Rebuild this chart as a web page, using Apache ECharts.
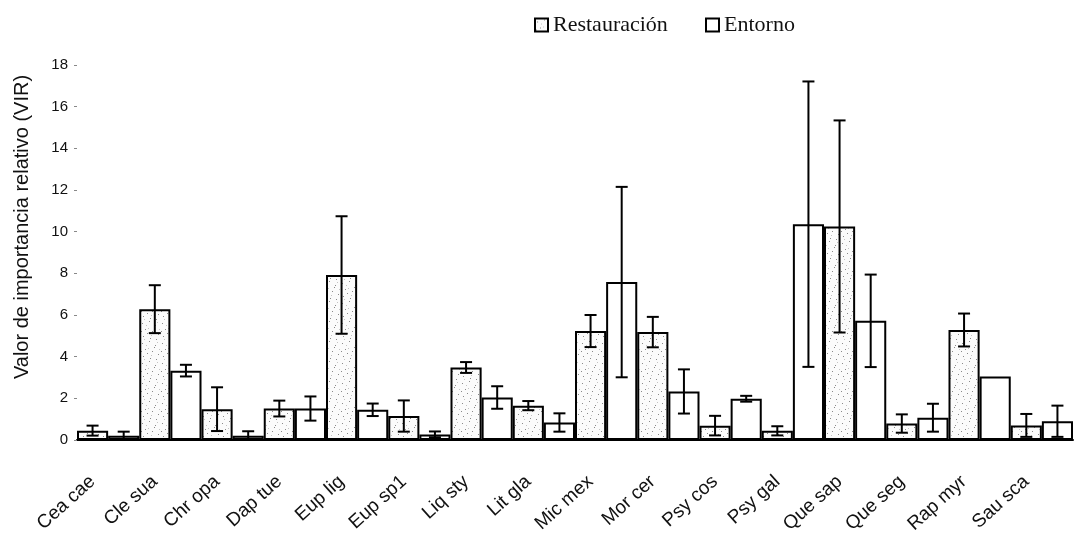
<!DOCTYPE html>
<html>
<head>
<meta charset="utf-8">
<script src="https://cdn.jsdelivr.net/npm/echarts@6/dist/echarts.min.js"></script>
<style>
html,body{margin:0;padding:0;background:#fff;}
#chart{width:1074px;height:542px;}
</style>
</head>
<body>
<div id="chart"></div>
<script>
const categories = ['Cea cae','Cle sua','Chr opa','Dap tue','Eup lig','Eup sp1','Liq sty','Lit gla','Mic mex','Mor cer','Psy cos','Psy gal','Que sap','Que seg','Rap myr','Sau sca'];
const restauracion    = [0.45, 6.28, 1.48, 1.51, 7.92, 1.15, 3.48, 1.65, 5.23, 5.18, 0.69, 0.44, 10.25, 0.79, 5.28, 0.70];
const restauracionErr = [0.24, 1.15, 1.05, 0.38, 2.82, 0.75, 0.26, 0.22, 0.77, 0.73, 0.47, 0.22, 5.09, 0.44, 0.79, 0.55];
const entorno         = [0.20, 3.33, 0.20, 1.51, 1.45, 0.27, 2.04, 0.84, 7.58, 2.33, 1.98, 10.36, 5.72, 1.07, 3.05, 0.90];
const entornoErr      = [0.20, 0.28, 0.22, 0.58, 0.30, 0.14, 0.54, 0.44, 4.57, 1.06, 0.14, 6.85, 2.22, 0.67, null, 0.75];
const yTicks = [0, 2, 4, 6, 8, 10, 12, 14, 16, 18];
const yTitle = 'Valor de importancia relativo (VIR)';
const seriesNames = ['Restauración', 'Entorno'];

// stipple texture for the "Restauración" fill
const tex = document.createElement('canvas');
tex.width = 20; tex.height = 20;
(function(){
  const c = tex.getContext('2d');
  c.fillStyle = '#fbfbfb'; c.fillRect(0,0,20,20);
  c.fillStyle = '#8a8a8a';
  const dots = [[2,3],[9,1],[15,5],[5,9],[12,11],[18,14],[3,16],[10,18],[16,19],[7,13],[14,7],[1,11]];
  dots.forEach(d => c.fillRect(d[0], d[1], 1, 1));
  c.fillStyle = '#c4c4c4';
  const dots2 = [[6,5],[17,2],[11,15],[4,19],[19,9],[8,8]];
  dots2.forEach(d => c.fillRect(d[0], d[1], 1, 1));
})();
const stipple = { image: tex, repeat: 'repeat' };

function errData(vals, errs) {
  return vals.map((v, i) => [i, v, errs[i]]);
}
function errRender(side) {
  return function(params, api) {
    const e = api.value(2);
    if (e === null || e === undefined || isNaN(e)) return null;
    const i = api.value(0), v = api.value(1);
    const bw = api.size([1, 0])[0];
    const c = api.coord([i, v]);
    const x = c[0] + side * bw / 4;
    const yh = api.coord([i, v + e])[1];
    const yl = api.coord([i, Math.max(0, v - e)])[1];
    const cap = 6;
    const st = { stroke: '#000', lineWidth: 2 };
    return {
      type: 'group',
      children: [
        { type: 'line', shape: { x1: x, y1: yh, x2: x, y2: yl }, style: st },
        { type: 'line', shape: { x1: x - cap, y1: yh, x2: x + cap, y2: yh }, style: st },
        { type: 'line', shape: { x1: x - cap, y1: yl, x2: x + cap, y2: yl }, style: st }
      ]
    };
  };
}

const legendBase = {
  icon: 'rect', top: 9,
  itemWidth: 13, itemHeight: 13,
  textStyle: { fontFamily: 'Liberation Serif', fontSize: 22, color: '#111' }
};

const chart = echarts.init(document.getElementById('chart'), null, { renderer: 'canvas' });
chart.setOption({
  backgroundColor: '#fff',
  animation: false,
  legend: [
    Object.assign({}, legendBase, { data: [seriesNames[0]], left: 529 }),
    Object.assign({}, legendBase, { data: [seriesNames[1]], left: 700 })
  ],
  grid: { left: 77, right: 1, top: 65, bottom: 102 },
  xAxis: {
    type: 'category',
    data: categories,
    axisLine: { lineStyle: { color: '#000', width: 2 } },
    axisTick: { show: false },
    axisLabel: {
      interval: 0, rotate: 42, margin: 25, padding: [0, 21, 0, 0],
      fontFamily: 'Liberation Sans', fontSize: 19, color: '#111'
    }
  },
  yAxis: {
    type: 'value',
    min: yTicks[0], max: yTicks[yTicks.length - 1], interval: 2,
    axisLine: { show: false },
    axisTick: { show: true, length: 3, lineStyle: { color: '#888', width: 1 } },
    splitLine: { show: false },
    axisLabel: { margin: 9, fontFamily: 'Liberation Sans', fontSize: 15, color: '#111',
      formatter: v => yTicks.indexOf(v) >= 0 ? String(v) : '' }
  },
  graphic: [{
    type: 'text', x: 22, y: 227, rotation: Math.PI / 2,
    style: { text: yTitle, fontFamily: 'Liberation Sans', fontSize: 20, fill: '#111',
      align: 'center', verticalAlign: 'middle' }
  }],
  series: [
    { name: seriesNames[0], type: 'bar', data: restauracion, barGap: '0%', barCategoryGap: '0%',
      itemStyle: { color: stipple, borderColor: '#000', borderWidth: 2 } },
    { name: seriesNames[1], type: 'bar', data: entorno, barGap: '0%', barCategoryGap: '0%',
      itemStyle: { color: '#fff', borderColor: '#000', borderWidth: 2 } },
    { type: 'custom', data: errData(restauracion, restauracionErr), renderItem: errRender(-1),
      encode: { x: 0, y: 1 }, z: 5, silent: true },
    { type: 'custom', data: errData(entorno, entornoErr), renderItem: errRender(1),
      encode: { x: 0, y: 1 }, z: 5, silent: true }
  ]
});
</script>
</body>
</html>
